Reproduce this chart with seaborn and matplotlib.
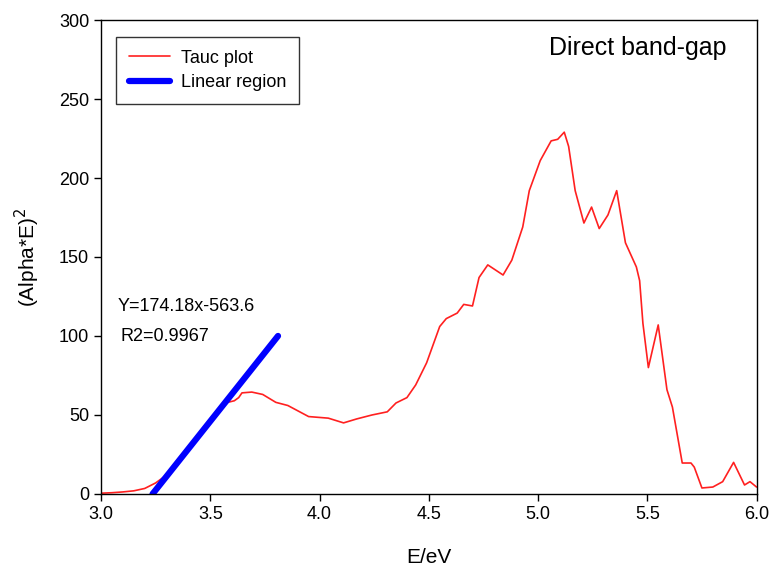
import matplotlib
matplotlib.use("Agg")
import matplotlib.pyplot as plt
import seaborn as sns
import numpy as np
import pandas as pd

energy = [3.00, 3.05, 3.10, 3.15, 3.20, 3.25, 3.30, 3.35, 3.40, 3.45, 3.50, 3.55, 3.58,
          3.61, 3.63, 3.645, 3.69, 3.74, 3.80, 3.855, 3.95, 4.04, 4.11, 4.17, 4.24, 4.31,
          4.35, 4.40, 4.44, 4.49, 4.55, 4.58, 4.63, 4.66, 4.70, 4.73, 4.77, 4.84, 4.88,
          4.93, 4.96, 5.01, 5.06, 5.09, 5.12, 5.14, 5.17, 5.21, 5.245, 5.28, 5.32, 5.36,
          5.40, 5.45, 5.465, 5.48, 5.505, 5.55, 5.59, 5.615, 5.66, 5.70, 5.715, 5.75,
          5.80, 5.845, 5.895, 5.945, 5.97, 6.00]
tauc = [0.5, 0.8, 1.3, 2.0, 3.5, 7.0, 12, 20, 29, 37, 46, 54, 58,
        59, 61, 64, 64.5, 63, 58, 56, 49, 48, 45, 47.5, 50, 52,
        57.6, 61, 69, 83, 106, 111, 114.5, 120, 119, 137, 145, 138.6, 148,
        169, 192, 211, 223.5, 224.5, 229, 220, 192, 171.5, 181.6, 168, 176.6, 192,
        159, 143.7, 135, 108, 80, 107, 66, 55, 19.6, 19.6, 17, 3.8,
        4.4, 7.8, 20, 5.7, 7.8, 4.4]

fit_slope = 174.18
fit_intercept = -563.6
fit_range = [3.2357, 3.81]

sns.set_style("ticks")
plt.rcParams['font.family'] = ['Liberation Sans', 'DejaVu Sans']
plt.rcParams['text.color'] = 'black'
plt.rcParams['axes.labelcolor'] = 'black'
plt.rcParams['xtick.color'] = 'black'
plt.rcParams['ytick.color'] = 'black'

fig = plt.figure(figsize=(7.73, 5.75), dpi=100)
ax = fig.add_axes([0.1307, 0.1409, 0.8480, 0.8243])

df = pd.DataFrame({"E": energy, "y": tauc})
sns.lineplot(data=df, x="E", y="y", ax=ax, color="#ff2020", linewidth=1.2,
             label="Tauc plot", sort=False)

fx = np.array(fit_range)
fdf = pd.DataFrame({"E": fx, "y": fit_slope * fx + fit_intercept})
sns.lineplot(data=fdf, x="E", y="y", ax=ax, color="#0000ff", linewidth=4.5,
             label="Linear region", solid_capstyle="round")

ax.set_xlim(3.0, 6.0)
ax.set_ylim(0, 300)
ax.set_xticks([3.0, 3.5, 4.0, 4.5, 5.0, 5.5, 6.0])
ax.set_xticklabels(["3.0", "3.5", "4.0", "4.5", "5.0", "5.5", "6.0"])
ax.set_yticks([0, 50, 100, 150, 200, 250, 300])
ax.tick_params(axis="both", direction="out", length=5, width=1, labelsize=13,
               colors="black", top=False, right=False)
for s in ax.spines.values():
    s.set_visible(True)
    s.set_color("black")
    s.set_linewidth(1.0)

ax.set_xlabel("E/eV", fontsize=15, labelpad=18, color="black")
ax.set_ylabel("(Alpha*E)$^2$", fontsize=15, labelpad=12, color="black")

leg = ax.legend(loc="upper left", bbox_to_anchor=(0.023, 0.964), borderaxespad=0,
                fontsize=13, frameon=True, fancybox=False, edgecolor="black",
                handlelength=2.3, handletextpad=0.6, borderpad=0.7,
                labelspacing=0.4)
leg.get_frame().set_linewidth(1.0)
for t in leg.get_texts():
    t.set_color("black")

ax.text(0.954, 0.94, "Direct band-gap", transform=ax.transAxes, ha="right",
        va="center", fontsize=18, color="black")
ax.text(0.025, 0.395, "Y=174.18x-563.6", transform=ax.transAxes, ha="left",
        va="center", fontsize=13, color="black")
ax.text(0.03, 0.332, "R2=0.9967", transform=ax.transAxes, ha="left",
        va="center", fontsize=13, color="black")

fig.savefig("out.png", dpi=100)
